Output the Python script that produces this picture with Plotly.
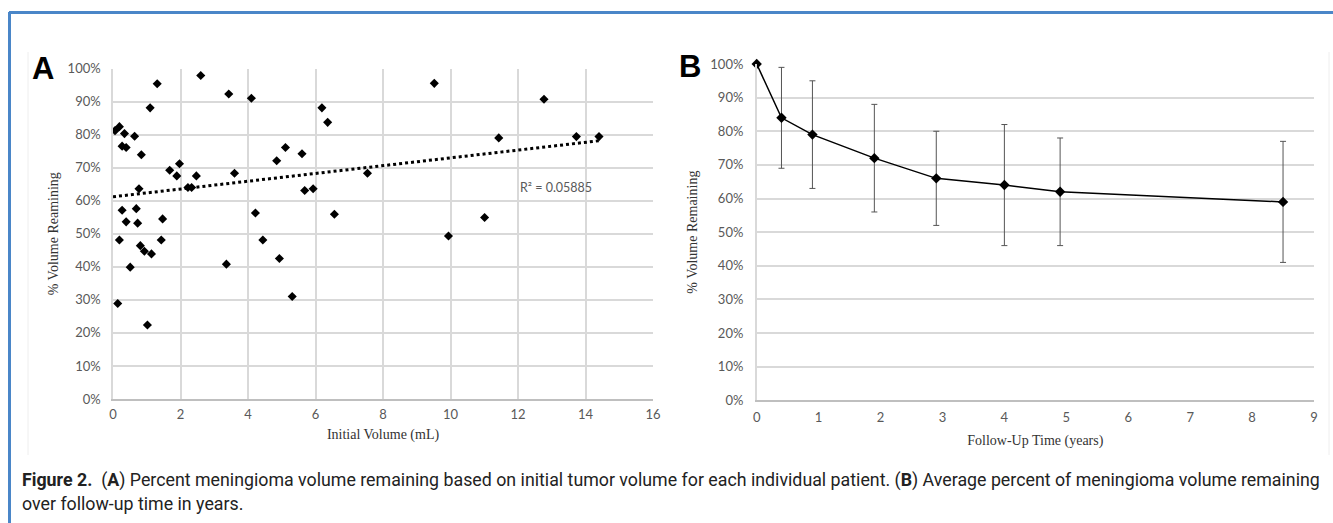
import numpy as np
import plotly.graph_objects as go

# ---- Panel A data: initial volume (mL) vs % volume remaining ----
initial_volume = [0.06, 0.19, 0.34, 0.27, 0.39, 0.64, 0.84, 1.10, 1.31, 1.68,
                  1.89, 1.97, 0.77, 2.22, 2.33, 2.47, 2.60, 3.43, 3.60, 4.10,
                  4.22, 4.44, 4.85, 5.11, 5.60, 5.68, 5.93, 6.19, 6.36, 6.56,
                  7.54, 0.27, 0.39, 0.69, 0.73, 1.47, 0.19, 1.43, 0.81, 0.93,
                  1.14, 0.51, 0.14, 1.02, 3.36, 4.93, 5.31, 9.52, 12.77, 11.43,
                  13.73, 14.40, 11.01, 9.94]
pct_remaining_a = [81.2, 82.4, 80.3, 76.5, 76.1, 79.5, 73.9, 88.1, 95.4, 69.2,
                   67.5, 71.2, 63.6, 64.0, 64.0, 67.5, 97.9, 92.3, 68.3, 91.0,
                   56.3, 48.1, 72.1, 76.1, 74.2, 63.1, 63.6, 88.1, 83.7, 55.9,
                   68.3, 57.1, 53.6, 57.6, 53.2, 54.5, 48.1, 48.1, 46.4, 44.7,
                   43.9, 39.9, 28.9, 22.4, 40.8, 42.5, 31.0, 95.5, 90.7, 79.0,
                   79.4, 79.4, 54.9, 49.3]
r_squared_label = "R² = 0.05885"

# ---- Panel B data: follow-up time vs average % remaining ----
followup_years = [0, 0.4, 0.9, 1.9, 2.9, 4.0, 4.9, 8.5]
pct_remaining_b = [100, 84, 79, 72, 66, 64, 62, 59]
pct_error_b = [0, 15, 16, 16, 14, 18, 16, 18]

x_ticks_a = list(range(0, 17, 2))
x_ticks_b = list(range(0, 10))
y_ticks = [i / 10 for i in range(0, 11)]

W, H = 1333, 523

def px(x):
    return x / W

def py(y):
    return 1 - y / H

ya = np.array(pct_remaining_a) / 100
xa = np.array(initial_volume)
slope, intercept = np.polyfit(xa, ya, 1)
trend_x = np.array([0, xa.max()])
trend_y = intercept + slope * trend_x

fig = go.Figure()

fig.add_trace(go.Scatter(
    x=initial_volume, y=ya, mode="markers",
    marker=dict(symbol="diamond", size=7, color="black"),
    xaxis="x", yaxis="y", showlegend=False))
fig.add_trace(go.Scatter(
    x=trend_x, y=trend_y, mode="lines",
    line=dict(color="black", width=3, dash="dot"),
    xaxis="x", yaxis="y", showlegend=False))

fig.add_trace(go.Scatter(
    x=followup_years, y=np.array(pct_remaining_b) / 100, mode="lines+markers",
    line=dict(color="black", width=1.5),
    marker=dict(symbol="diamond", size=8, color="black"),
    error_y=dict(type="data", array=np.array(pct_error_b) / 100,
                 color="#555555", thickness=1, width=3),
    cliponaxis=False,
    xaxis="x2", yaxis="y2", showlegend=False))

tickfont = dict(family="Lato, Open Sans, sans-serif", size=13, color="#595959")
titlefont = dict(family="Liberation Serif, Times New Roman, serif", size=14, color="#333333")

common = dict(ticks="", tickfont=tickfont, automargin=False, zeroline=False, showline=True,
              linewidth=1.5)

fig.update_layout(
    width=W, height=H,
    margin=dict(l=0, r=0, t=0, b=0, autoexpand=False),
    paper_bgcolor="white", plot_bgcolor="white",
    xaxis=dict(domain=[px(113), px(653)], range=[0, 16], tickvals=x_ticks_a,
               showgrid=True, gridcolor="#d9d9d9", gridwidth=1.5, linecolor="#bfbfbf",
               anchor="y", ticklabelstandoff=3, **common,
               title=dict(text="Initial Volume (mL)", font=titlefont, standoff=8)),
    yaxis=dict(domain=[py(399), py(68.5)], range=[0, 1], tickvals=y_ticks,
               tickformat=".0%", showgrid=True, gridcolor="#d9d9d9", gridwidth=1.5,
               linecolor="#d9d9d9", anchor="x", ticklabelstandoff=8, **common,
               title=dict(text="% Volume Reamining", font=titlefont, standoff=6)),
    xaxis2=dict(domain=[px(756.7), px(1314)], range=[0, 9], tickvals=x_ticks_b,
                showgrid=False, linecolor="#bfbfbf", anchor="y2", ticklabelstandoff=4, **common,
                title=dict(text="Follow-Up Time (years)", font=titlefont, standoff=12)),
    yaxis2=dict(domain=[py(400.3), py(64)], range=[0, 1], tickvals=y_ticks,
                tickformat=".0%", showgrid=True, gridcolor="#d9d9d9", gridwidth=1.5,
                linecolor="#d9d9d9", anchor="x2", ticklabelstandoff=9, **common,
                title=dict(text="% Volume Remaining", font=titlefont, standoff=9)),
)

# R² annotation
fig.add_annotation(x=12.0, y=0.641, xref="x", yref="y", text=r_squared_label,
                   showarrow=False, xanchor="left",
                   font=dict(family="Lato, Open Sans, sans-serif", size=12.5, color="#595959"))

# Panel letters
for letter, xx, yy in (("A", 43, 68.5), ("B", 690, 67)):
    fig.add_annotation(x=px(xx), y=py(yy), xref="paper", yref="paper", text=f"<b>{letter}</b>",
                       showarrow=False, xanchor="center", yanchor="middle",
                       font=dict(family="Liberation Sans, Arial, sans-serif", size=31, color="black"))

# Caption
cap_font = dict(family="Roboto, sans-serif", size=17.8, color="#222222")
fig.add_annotation(x=px(20), y=py(480), xref="paper", yref="paper", xanchor="left", yanchor="middle",
                   showarrow=False, align="left", font=cap_font,
                   text="<b>Figure 2.</b>  (<b>A</b>) Percent meningioma volume remaining based on initial tumor volume for each individual patient. (<b>B</b>) Average percent of meningioma volume remaining")
fig.add_annotation(x=px(20), y=py(503), xref="paper", yref="paper", xanchor="left", yanchor="middle",
                   showarrow=False, align="left", font=cap_font,
                   text="over follow-up time in years.")

# Frames
shapes = [
    dict(type="line", xref="paper", yref="paper", x0=px(28), x1=px(28), y0=py(52), y1=py(455),
         line=dict(color="#eeeeee", width=1)),
    dict(type="line", xref="paper", yref="paper", x0=px(1329), x1=px(1329), y0=py(52), y1=py(455),
         line=dict(color="#eeeeee", width=1)),
    dict(type="line", xref="paper", yref="paper", x0=px(9), x1=1, y0=py(12.5), y1=py(12.5),
         line=dict(color="#4a86c8", width=3)),
    dict(type="line", xref="paper", yref="paper", x0=px(9.5), x1=px(9.5), y0=py(12), y1=0,
         line=dict(color="#4a86c8", width=3)),
]
fig.update_layout(shapes=shapes)

fig.write_html("out.html", config={"displayModeBar": False},
               post_script="document.body.style.margin='0';document.body.style.overflow='hidden';")
